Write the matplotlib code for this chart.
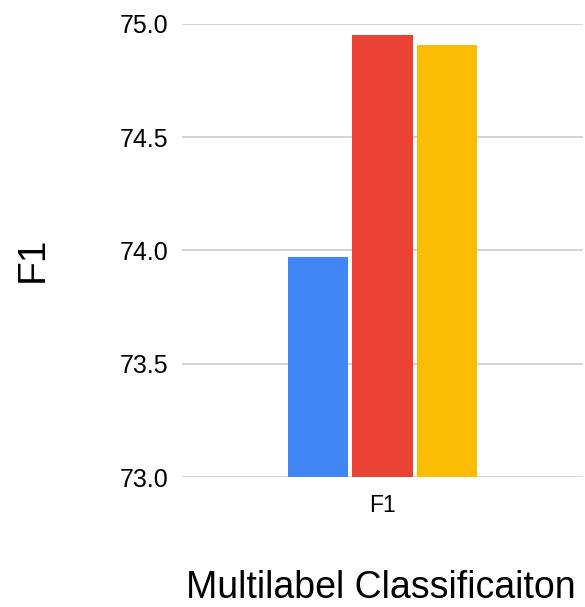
import matplotlib

matplotlib.use("Agg")

import matplotlib.pyplot as plt  # noqa: E402

plt.rcParams["font.family"] = ["Liberation Sans", "DejaVu Sans"]

# data
categories = ["F1"]
series_names = ["A", "B", "C"]
series_values = [73.973, 74.948, 74.904]
colors = ["#4285F4", "#EA4335", "#FBBC04"]
yticks = [73.0, 73.5, 74.0, 74.5, 75.0]

fig = plt.figure(figsize=(5.85, 6.07), dpi=100)
ax = fig.add_axes([0.311, 0.214, 0.686, 0.747])

offsets = [-0.161, 0.0, 0.161]
for off, val, col in zip(offsets, series_values, colors):
    ax.bar(off, val - yticks[0], bottom=yticks[0], width=0.15,
           color=col, zorder=3)

ax.set_xlim(-0.5, 0.5)
ax.set_ylim(yticks[0], yticks[-1])
ax.set_yticks(yticks)
ax.set_yticklabels([f"{t:.1f}" for t in yticks], fontsize=18)
ax.set_xticks([0])
ax.set_xticklabels(categories, fontsize=16.5)
ax.tick_params(axis="y", length=0, pad=10)
ax.tick_params(axis="x", length=0, pad=12)
ax.grid(axis="y", color="#cccccc", linewidth=1.2, zorder=0)
for s in ax.spines.values():
    s.set_visible(False)

fig.text(32.5 / 585, 1 - 259 / 607, "F1", fontsize=28, rotation=90,
         ha="center", va="center")
fig.text(381 / 585, 1 - 598 / 607, "Multilabel Classificaiton",
         fontsize=27, ha="center", va="baseline")

fig.savefig("out.png", dpi=100)
